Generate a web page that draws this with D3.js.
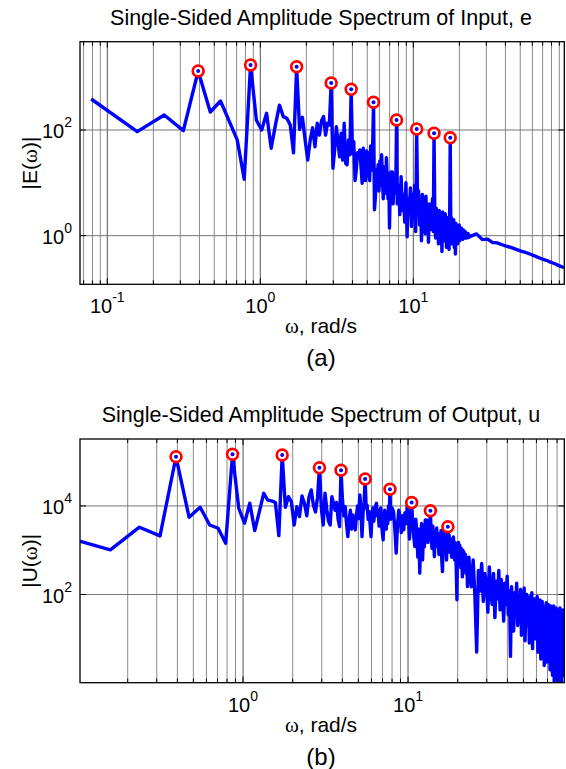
<!DOCTYPE html>
<head>
    <script src="https://d3js.org/d3.v7.min.js"></script>
</head>

<body style="margin: 0">
    <svg width="566" height="769"></svg>

    <script>
        // FFT bin spacing, rad/s
        var dw = 0.0785;

        // |E(w)| : bins 1..99
        var eBins1 = [386, 93, 192, 97, 1306, 219, 354, 144, 65, 11.7,
            1700, 155, 100, 207, 45, 125, 295, 179, 166, 124,
            37, 1578, 103, 174, 65, 27, 65, 110, 48, 134,
            80, 150, 179, 80, 134, 124, 774, 18.8, 42, 115,
            60, 31, 87, 27, 134, 23.5, 22, 65, 34, 588,
            36, 60, 11, 17.5, 37, 31, 42, 20, 9.8, 45,
            20, 11, 40, 36, 15, 11, 50, 17.5, 40, 336,
            3.1, 5.5, 18, 12, 22, 7, 26, 9, 34, 14,
            5, 20, 10, 6.4, 30, 12, 5, 15, 1.4, 8,
            16, 6, 16, 4, 11, 7, 6.4, 12, 155];
        // bins 100..298, every 2nd
        var eBins2 = [4, 9, 2.5, 13, 3, 6, 1.8, 10, 0.95, 5,
            3.2, 8, 1.5, 6, 2.2, 9, 1.2, 104, 3, 7,
            1.6, 5, 0.8, 6, 2, 4.5, 1.1, 5.6, 1.8, 3.5,
            0.75, 4, 1.3, 3, 2, 5, 1.2, 87, 2.6, 0.9,
            3.3, 1.4, 2.5, 0.7, 3, 1.2, 2.2, 1.6, 0.5, 2.8,
            1.1, 2, 0.8, 2.6, 1.3, 0.6, 2.2, 1.0, 1.8, 0.55,
            1.5, 71, 1.2, 2.2, 0.7, 1.6, 1.0, 2.0, 0.6, 1.4,
            0.45, 1.7, 0.9, 1.5, 0.7, 1.3, 1.0, 1.6, 0.8, 1.25,
            0.9, 1.4, 1.0, 1.2, 0.85, 1.3, 1.0, 1.15, 0.9, 1.2,
            0.95, 1.1, 0.9, 1.05, 0.95, 1.1, 0.92, 1.02, 0.94, 1.0];
        // bins 300..1230, every 30th
        var eTail = [0.97, 1.08, 0.84, 0.86, 0.74, 0.73, 0.68, 0.64, 0.61, 0.58,
            0.55, 0.52, 0.50, 0.48, 0.46, 0.44, 0.42, 0.40, 0.385, 0.37,
            0.355, 0.345, 0.335, 0.32, 0.31, 0.30, 0.29, 0.28, 0.27, 0.262,
            0.255, 0.248];

        // |U(w)| : bins 1..99
        var uBins1 = [2110, 1018, 3310, 2110, 129000, 5560, 9350, 3720, 3140, 1440,
            147000, 8870, 4070, 11500, 2770, 7440, 19300, 13600, 13000, 12000,
            2140, 141000, 9350, 16200, 12500, 3720, 9650, 5740, 16800, 11500,
            6000, 16200, 23000, 10500, 7320, 15200, 73000, 8870, 3720, 19300,
            8300, 4500, 3720, 16200, 11500, 8000, 12000, 5000, 3410, 63800,
            14000, 6000, 9650, 4000, 2030, 5000, 8000, 3000, 6270, 3800,
            2880, 6000, 10000, 5200, 17700, 9000, 2030, 7000, 12000, 40600,
            9000, 10300, 5000, 7500, 4000, 2030, 6000, 9000, 4500, 7000,
            10000, 11500, 6000, 8000, 3500, 5740, 9000, 4000, 2500, 1710,
            5000, 8000, 6500, 3000, 6840, 4000, 10000, 6000, 23800];
        // bins 100..298, every 2nd
        var uBins2 = [5000, 9000, 7400, 3000, 860, 4000, 8000, 5740, 2500, 6000,
            2880, 7000, 4000, 10500, 5740, 1800, 6000, 11900, 4000, 2000,
            1210, 5000, 2500, 700, 3000, 304, 2200, 4000, 606, 2500,
            1200, 4830, 2000, 4800, 1500, 3000, 2200, 7800, 2000, 1100,
            3500, 1500, 720, 2600, 1700, 3200, 1210, 2400, 800, 2000,
            1300, 2800, 600, 330, 1800, 2500, 900, 2200, 1400, 600,
            1800, 3400, 1600, 2200, 900, 1440, 1800, 700, 1600, 1000,
            2000, 800, 606, 1500, 900, 300, 76, 1200, 700, 1500,
            500, 1300, 1020, 400, 1100, 700, 250, 1000, 600, 900,
            350, 510, 800, 300, 700, 450, 151, 600, 400, 700];
        // bins 300..1124, every 8th
        var uTail = [400, 150, 600, 90, 5, 350, 120, 500, 70, 300,
            180, 40, 420, 110, 60, 300, 30, 200, 80, 350,
            45, 220, 90, 25, 180, 60, 260, 35, 120, 4,
            150, 40, 15, 110, 50, 180, 20, 90, 30, 130,
            12, 80, 35, 140, 9, 60, 100, 20, 70, 8,
            90, 25, 110, 6, 50, 80, 10, 65, 15, 90,
            5, 60, 20, 75, 3.5, 40, 70, 8, 55, 2.5,
            50, 12, 65, 3, 35, 60, 6, 45, 2, 55,
            10, 50, 1.5, 30, 55, 0.8, 40, 4, 50, 1.2,
            45, 7, 40, 0.7, 35, 50, 2, 45, 0.6, 40,
            3, 45, 1.5, 38];

        // bins of the excitation frequencies (circled)
        var peakBins = [5, 11, 22, 37, 50, 70, 99, 134, 174, 222];

        // decade exponents that get a label
        var xExpA = [-1, 0, 1], yExpA = [0, 2];
        var xExpB = [0, 1], yExpB = [2, 4];

        var FONT = "'Liberation Sans', Arial, Helvetica, sans-serif";
        var SERIF = "'Liberation Serif', 'Times New Roman', serif";

        var svg = d3.select("svg");
        svg.append("rect").attr("width", 566).attr("height", 769).attr("fill", "#fff");

        function binSeries(k0, step, vals) {
            return vals.map(function(v, i) {
                return { k: k0 + i * step, v: v };
            });
        }

        var seriesE = binSeries(1, 1, eBins1).concat(binSeries(100, 2, eBins2), binSeries(300, 30, eTail));
        var seriesU = binSeries(1, 1, uBins1).concat(binSeries(100, 2, uBins2), binSeries(300, 8, uTail));

        function isDecade(t) {
            var l = Math.log10(t);
            return Math.abs(l - Math.round(l)) < 1e-6;
        }

        function powLabel(sel, e) {
            sel.append("tspan").text("10");
            sel.append("tspan").attr("font-size", 14).attr("dy", -11).text(String(e));
        }

        function drawPanel(o) {
            var x = d3.scaleLog().domain(o.xDomain).range([o.left, o.right]);
            var y = d3.scaleLog().domain(o.yDomain).range([o.bottom, o.top]);
            var g = svg.append("g");

            g.append("clipPath").attr("id", "clip-" + o.id)
                .append("rect")
                .attr("x", o.left).attr("y", o.top)
                .attr("width", o.right - o.left).attr("height", o.bottom - o.top);

            var xt = x.ticks();

            // Grid
            g.append("g").selectAll("line")
                .data(xt)
                .enter().append("line")
                .attr("x1", function(d) { return x(d); })
                .attr("x2", function(d) { return x(d); })
                .attr("y1", o.top).attr("y2", o.bottom)
                .attr("stroke", function(d) { return isDecade(d) ? "#555" : "#8a8a8a"; })
                .attr("stroke-width", 1);

            g.append("g").selectAll("line")
                .data(o.yExp)
                .enter().append("line")
                .attr("x1", o.left).attr("x2", o.right)
                .attr("y1", function(e) { return y(Math.pow(10, e)); })
                .attr("y2", function(e) { return y(Math.pow(10, e)); })
                .attr("stroke", "#777")
                .attr("stroke-width", 1);

            // Spectrum
            var line = d3.line()
                .x(function(d) { return x(d.k * dw); })
                .y(function(d) { return y(d.v); });

            g.append("path")
                .datum(o.series)
                .attr("clip-path", "url(#clip-" + o.id + ")")
                .attr("d", line)
                .attr("fill", "none")
                .attr("stroke", "#0000ff")
                .attr("stroke-width", 3.4)
                .attr("stroke-linejoin", "round");

            // Peaks
            var peaks = o.series.filter(function(d) {
                return peakBins.indexOf(d.k) >= 0;
            });
            g.append("g").selectAll("circle")
                .data(peaks)
                .enter().append("circle")
                .attr("cx", function(d) { return x(d.k * dw); })
                .attr("cy", function(d) { return y(d.v); })
                .attr("r", 5.4)
                .attr("fill", "#fff")
                .attr("stroke", "#ff0000")
                .attr("stroke-width", 2.7);
            g.append("g").selectAll("circle")
                .data(peaks)
                .enter().append("circle")
                .attr("cx", function(d) { return x(d.k * dw); })
                .attr("cy", function(d) { return y(d.v); })
                .attr("r", 2)
                .attr("fill", "#0000ff");

            // Box
            g.append("rect")
                .attr("x", o.left).attr("y", o.top)
                .attr("width", o.right - o.left).attr("height", o.bottom - o.top)
                .attr("fill", "none")
                .attr("stroke", "#000")
                .attr("stroke-width", 1.3);

            // Tick marks (inward)
            var tk = g.append("g").attr("stroke", "#000").attr("stroke-width", 1);
            xt.forEach(function(t) {
                var len = isDecade(t) ? 6 : 4;
                tk.append("line").attr("x1", x(t)).attr("x2", x(t)).attr("y1", o.top).attr("y2", o.top + len);
                tk.append("line").attr("x1", x(t)).attr("x2", x(t)).attr("y1", o.bottom).attr("y2", o.bottom - len);
            });
            o.yExp.forEach(function(e) {
                var yy = y(Math.pow(10, e));
                tk.append("line").attr("x1", o.left).attr("x2", o.left + 6).attr("y1", yy).attr("y2", yy);
                tk.append("line").attr("x1", o.right).attr("x2", o.right - 6).attr("y1", yy).attr("y2", yy);
            });

            // Tick labels
            o.xExp.forEach(function(e) {
                var t = g.append("text")
                    .attr("x", x(Math.pow(10, e)))
                    .attr("y", o.bottom + 29)
                    .attr("text-anchor", "middle")
                    .attr("font-family", FONT)
                    .attr("font-size", 20)
                    .attr("fill", "#000");
                powLabel(t, e);
            });
            o.yExp.forEach(function(e) {
                var t = g.append("text")
                    .attr("x", o.left - 8)
                    .attr("y", y(Math.pow(10, e)) + 8)
                    .attr("text-anchor", "end")
                    .attr("font-family", FONT)
                    .attr("font-size", 20)
                    .attr("fill", "#000");
                powLabel(t, e);
            });

            // Title
            g.append("text")
                .attr("x", 321)
                .attr("y", o.top - 17)
                .attr("text-anchor", "middle")
                .attr("font-family", FONT)
                .attr("font-size", 21.5)
                .attr("fill", "#000")
                .text(o.title);

            // x label
            var xl = g.append("text")
                .attr("x", 321)
                .attr("y", o.bottom + 49)
                .attr("text-anchor", "middle")
                .attr("font-family", FONT)
                .attr("font-size", 21)
                .attr("fill", "#000");
            xl.append("tspan").attr("font-family", SERIF).text("\u03c9");
            xl.append("tspan").text(", rad/s");

            // y label
            var yl = g.append("text")
                .attr("transform", "translate(37," + ((o.top + o.bottom) / 2) + ") rotate(-90)")
                .attr("text-anchor", "middle")
                .attr("font-family", FONT)
                .attr("font-size", 21)
                .attr("fill", "#000");
            yl.append("tspan").text("|" + o.yName + "(");
            yl.append("tspan").attr("font-family", SERIF).text("\u03c9");
            yl.append("tspan").text(")|");

            // Caption
            g.append("text")
                .attr("x", 321)
                .attr("y", o.bottom + 82)
                .attr("text-anchor", "middle")
                .attr("font-family", FONT)
                .attr("font-size", 24)
                .attr("fill", "#000")
                .text(o.caption);
        }

        drawPanel({
            id: "a",
            series: seriesE,
            xDomain: [0.0663, 97],
            yDomain: [0.12, 4690],
            left: 80, right: 564.3, top: 41.7, bottom: 284.3,
            xExp: xExpA, yExp: yExpA,
            title: "Single-Sided Amplitude Spectrum of Input, e",
            yName: "E",
            caption: "(a)"
        });

        drawPanel({
            id: "b",
            series: seriesU,
            xDomain: [0.1028, 88.5],
            yDomain: [1.02, 325000],
            left: 80, right: 564.3, top: 439, bottom: 682.7,
            xExp: xExpB, yExp: yExpB,
            title: "Single-Sided Amplitude Spectrum of Output, u",
            yName: "U",
            caption: "(b)"
        });
    </script>
</body>
